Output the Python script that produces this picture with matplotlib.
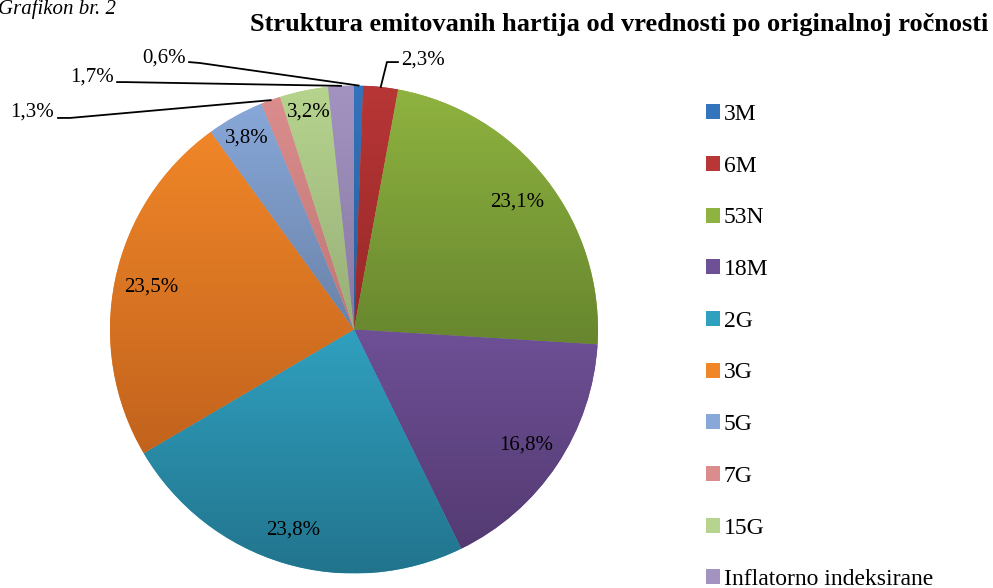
import numpy as np
import matplotlib
matplotlib.use("Agg")
import matplotlib.pyplot as plt
from matplotlib.patches import Patch
from matplotlib.colors import to_rgb

categories = ["3M", "6M", "53N", "18M", "2G", "3G", "5G", "7G", "15G", "Inflatorno indeksirane"]
values = [0.6, 2.3, 23.1, 16.8, 23.8, 23.5, 3.8, 1.3, 3.2, 1.7]
labels = ["0,6%", "2,3%", "23,1%", "16,8%", "23,8%", "23,5%", "3,8%", "1,3%", "3,2%", "1,7%"]

top_colors = ["#3474bd", "#b83636", "#8fb340", "#6d5096", "#30a0bf", "#f08628", "#88a8d9", "#da8d8c", "#b6d48e", "#a393c1"]
bot_colors = ["#285d99", "#982828", "#67862e", "#543a72", "#22748d", "#c2631d", "#6a82a8", "#bf7776", "#98ae78", "#8878a2"]

plt.rcParams['font.family'] = ['Liberation Serif', 'DejaVu Serif']

fig = plt.figure(figsize=(9.93, 5.88), dpi=100)
R = 244.0
cx, cy = 354.0, 588 - 329.5
ax = fig.add_axes([(cx - R) / 993, (cy - R) / 588, 2 * R / 993, 2 * R / 588])

wedges, _ = ax.pie(values, startangle=90, counterclock=False, radius=1.0,
                   colors=top_colors, wedgeprops=dict(linewidth=0))

# gradient fill per slice
for w, c1, c2 in zip(wedges, top_colors, bot_colors):
    ext = w.get_path().get_extents()
    a = np.array(to_rgb(c1)); b = np.array(to_rgb(c2))
    t = np.linspace(0, 1, 256)[:, None]
    grad = (a[None, :] * (1 - t) + b[None, :] * t)[:, None, :]
    im = ax.imshow(grad, extent=[ext.x0, ext.x1, ext.y0, ext.y1], origin='upper',
                   aspect='auto', zorder=w.get_zorder() + 0.1, interpolation='bilinear')
    im.set_clip_path(w)

ax.set_xlim(-1, 1)
ax.set_ylim(-1, 1)
ax.set_aspect('auto')
ax.axis('off')

def mid(w):
    return np.deg2rad((w.theta1 + w.theta2) / 2)

# inside labels
inside_dist = {2: 0.85, 3: 0.85, 4: 0.86, 5: 0.85, 6: 0.90, 8: 0.91}
for i, d in inside_dist.items():
    th = mid(wedges[i])
    ax.text(d * np.cos(th), d * np.sin(th), labels[i], ha='center', va='center',
            fontsize=15, zorder=5)

# outside labels with leader lines: (index, elbow, end, text pos, ha)
outside = [
    (1, (0.135, 1.096), (0.18, 1.096), (0.195, 1.104), 'left'),
    (0, (-0.63, 1.092), (-0.676, 1.096), (-0.69, 1.113), 'right'),
    (9, (-0.939, 1.014), (-0.971, 1.014), (-0.985, 1.035), 'right'),
    (7, (-1.164, 0.867), (-1.213, 0.867), (-1.228, 0.891), 'right'),
]
for i, elbow, end, tpos, ha in outside:
    th = mid(wedges[i])
    xs = [np.cos(th), elbow[0], end[0]]
    ys = [np.sin(th), elbow[1], end[1]]
    ax.plot(xs, ys, color='black', lw=1.3, clip_on=False, zorder=6,
            solid_joinstyle='miter')
    ax.text(tpos[0], tpos[1], labels[i], ha=ha, va='center', fontsize=15,
            zorder=6, clip_on=False)

# legend
handles = [Patch(facecolor=c, edgecolor='none') for c in top_colors]
fig.legend(handles, categories, loc='upper left', bbox_to_anchor=(706 / 993, 1 - 104 / 588),
           frameon=False, fontsize=17, handlelength=0.6, handleheight=0.6,
           handletextpad=0.15, labelspacing=1.30, borderpad=0, borderaxespad=0)

fig.text(0.995, 1 - 25 / 588, "Struktura emitovanih hartija od vrednosti po originalnoj ročnosti",
         ha='right', va='center', fontsize=19, fontweight='bold')
fig.text(-0.002, 1 - 14 / 588, "Grafikon br. 2", ha='left', va='baseline',
         fontsize=15, fontstyle='italic')

fig.savefig("out.png", dpi=100)
